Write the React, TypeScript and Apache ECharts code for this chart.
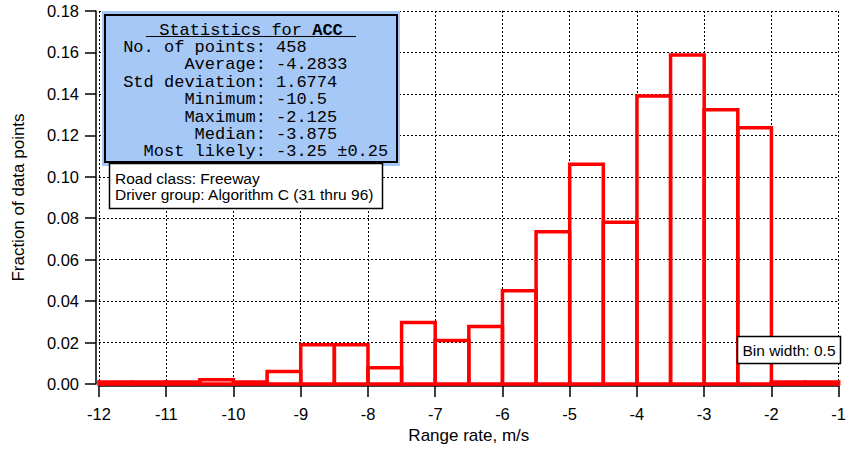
import React, { useEffect, useRef } from "react";
import * as echarts from "echarts";

// Histogram bins (left edges), bin width 0.5
const binStarts = [-12, -11.5, -11, -10.5, -10, -9.5, -9, -8.5, -8, -7.5, -7, -6.5, -6, -5.5, -5, -4.5, -4, -3.5, -3, -2.5, -2, -1.5];
const binWidth = 0.5;
const fractions = [0.001, 0.001, 0.001, 0.002, 0.001, 0.006, 0.019, 0.019, 0.0078, 0.0297, 0.021, 0.0278, 0.045, 0.0735, 0.106, 0.078, 0.139, 0.1588, 0.1323, 0.1236, 0.001, 0.001];

const statLabels = ["No. of points:", "Average:", "Std deviation:", "Minimum:", "Maximum:", "Median:", "Most likely:"];
const statValues = ["458", "-4.2833", "1.6774", "-10.5", "-2.125", "-3.875", "-3.25 \u00b10.25"];
const noteLines = ["Road class: Freeway", "Driver group: Algorithm C (31 thru 96)"];
const binNote = "Bin width: 0.5";

const SANS = "'Liberation Sans', Arial, sans-serif";
const MONO = "'Liberation Mono', 'Courier New', monospace";

export default function App() {
  const ref = useRef<HTMLDivElement>(null);
  useEffect(() => {
    document.body.style.margin = "0";
    const chart = echarts.init(ref.current!, null, { renderer: "svg" });
    const data = binStarts.map((s, i) => [s, s + binWidth, fractions[i]]);

    const graphics: any[] = [];
    // stats box
    graphics.push({ type: "rect", shape: { x: 102, y: 11, width: 298, height: 155 }, style: { fill: "#a6c8f6" }, z: 10 });
    graphics.push({ type: "rect", shape: { x: 105, y: 15, width: 292, height: 147 }, style: { fill: "#a6c8f6", stroke: "#000", lineWidth: 2 }, z: 11 });
    graphics.push({
      type: "text", x: 251, y: 30, z: 12,
      style: {
        text: "{n|Statistics for }{b|ACC}", textAlign: "center", textVerticalAlign: "middle",
        rich: {
          n: { fontFamily: MONO, fontSize: 17, fill: "#000" },
          b: { fontFamily: MONO, fontSize: 17, fontWeight: "bold", fill: "#000" },
        },
      },
    });
    graphics.push({ type: "line", shape: { x1: 146, y1: 36.5, x2: 356, y2: 36.5 }, style: { stroke: "#000", lineWidth: 1 }, z: 12 });
    statLabels.forEach((l, i) => {
      const y = 47.4 + 17.4 * i;
      graphics.push({ type: "text", x: 266, y, z: 12, style: { text: l, font: `17px ${MONO}`, fill: "#000", textAlign: "right", textVerticalAlign: "middle" } });
      graphics.push({ type: "text", x: 276, y, z: 12, style: { text: statValues[i], font: `17px ${MONO}`, fill: "#000", textAlign: "left", textVerticalAlign: "middle" } });
    });
    // road class box
    graphics.push({ type: "rect", shape: { x: 109.5, y: 163.5, width: 273, height: 45 }, style: { fill: "#fff", stroke: "#000", lineWidth: 1.5 }, z: 13 });
    noteLines.forEach((t, i) => {
      graphics.push({ type: "text", x: 115, y: 178 + 16.7 * i, z: 14, style: { text: t, font: `15.5px ${SANS}`, fill: "#000", textAlign: "left", textVerticalAlign: "middle" } });
    });
    // bin width box
    graphics.push({ type: "rect", shape: { x: 737.5, y: 336.5, width: 103, height: 27 }, style: { fill: "#fff", stroke: "#000", lineWidth: 1.5 }, z: 13 });
    graphics.push({ type: "text", x: 789, y: 350, z: 14, style: { text: binNote, font: `15.5px ${SANS}`, fill: "#000", textAlign: "center", textVerticalAlign: "middle" } });

    const gridLine = { show: true, lineStyle: { color: "#000", width: 1, type: [2, 2] as any } };

    chart.setOption({
      animation: false,
      backgroundColor: "#fff",
      grid: { left: 99, right: 7, top: 11, bottom: 66, containLabel: false },
      xAxis: {
        type: "value", min: -12, max: -1, interval: 1, offset: 2,
        name: "Range rate, m/s", nameLocation: "middle", nameGap: 41,
        nameTextStyle: { fontFamily: SANS, fontSize: 17, color: "#000" },
        axisLine: { show: true, onZero: false, lineStyle: { color: "#000", width: 1.5 } },
        axisTick: { show: true, length: 11, lineStyle: { color: "#000", width: 1.5 } },
        axisLabel: { fontFamily: SANS, fontSize: 16.5, color: "#000", margin: 19 },
        splitLine: gridLine,
      },
      yAxis: {
        type: "value", min: 0, max: 0.18, interval: 0.02, offset: 3,
        name: "Fraction of data points", nameLocation: "middle", nameGap: 69,
        nameTextStyle: { fontFamily: SANS, fontSize: 17, color: "#000" },
        axisLine: { show: true, onZero: false, lineStyle: { color: "#000", width: 1.5 } },
        axisTick: { show: true, length: 11, lineStyle: { color: "#000", width: 1.5 } },
        axisLabel: { fontFamily: SANS, fontSize: 16.5, color: "#000", margin: 17, formatter: (v: number) => v.toFixed(2) },
        splitLine: gridLine,
      },
      series: [
        {
          type: "custom",
          data,
          encode: { x: [0, 1], y: 2 },
          clip: false,
          renderItem: (params: any, api: any) => {
            const p0 = api.coord([api.value(0), api.value(2)]);
            const p1 = api.coord([api.value(1), 0]);
            return {
              type: "rect",
              shape: { x: p0[0], y: p0[1], width: p1[0] - p0[0], height: p1[1] - p0[1] },
              style: { fill: "none", stroke: "#ff0000", lineWidth: 3.5 },
            };
          },
        },
      ],
      graphic: graphics,
    });
    return () => chart.dispose();
  }, []);
  return <div ref={ref} style={{ width: 849, height: 450 }} />;
}
